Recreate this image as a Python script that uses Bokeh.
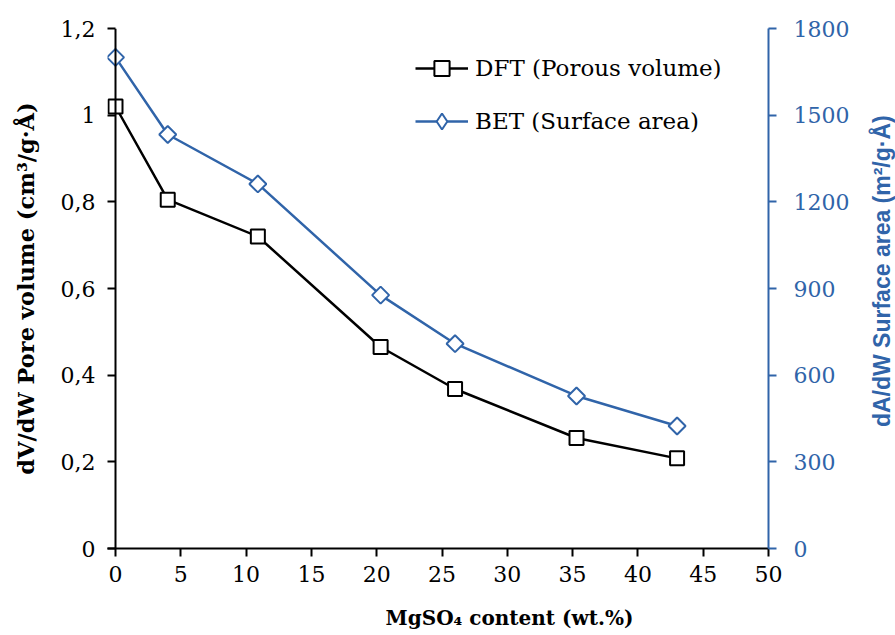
import math
from bokeh.plotting import figure
from bokeh.layouts import row, column
from bokeh.models import Range1d, LinearAxis, FixedTicker, Legend, LegendItem, Span, Label
from bokeh.embed import file_html
from bokeh.resources import INLINE

# ---- data ----
mgso4_content = [0, 4, 10.9, 20.3, 26, 35.3, 43]
dft_volume = [1.02, 0.805, 0.72, 0.465, 0.368, 0.255, 0.208]
bet_area = [1700, 1433, 1262, 877, 709, 528, 424]

x_ticks = [0, 5, 10, 15, 20, 25, 30, 35, 40, 45, 50]
left_ticks = [0, 0.2, 0.4, 0.6, 0.8, 1.0, 1.2]
left_tick_labels = ["0", "0,2", "0,4", "0,6", "0,8", "1", "1,2"]
right_ticks = [0, 300, 600, 900, 1200, 1500, 1800]

BLUE = "#3064A9"
SERIF = "DejaVu Serif"
MAIN_H = 600

p = figure(width=865, height=MAIN_H, x_range=Range1d(-0.6126, 50), y_range=Range1d(0, 1.2),
           output_backend="svg", toolbar_location=None,
           min_border_left=107, min_border_right=97, min_border_top=28, min_border_bottom=52)
p.outline_line_color = None
p.xgrid.visible = False
p.ygrid.visible = False
p.background_fill_color = "white"
p.border_fill_color = "white"

# bottom axis
xa = p.xaxis[0]
xa.ticker = FixedTicker(ticks=x_ticks)
xa.axis_line_width = 2
xa.axis_line_color = "black"
xa.major_tick_line_width = 2
xa.major_tick_in = 0
xa.major_tick_out = 8
xa.minor_tick_line_color = None
xa.major_label_text_font = SERIF
xa.major_label_text_font_size = "22px"
xa.major_label_text_color = "black"
xa.major_label_standoff = 9

# left axis (sits at frame edge; visible axis line drawn at x = 0)
ya = p.yaxis[0]
ya.ticker = FixedTicker(ticks=left_ticks)
ya.major_label_overrides = {t: l for t, l in zip(left_ticks, left_tick_labels)}
ya.axis_line_color = None
ya.major_tick_line_width = 2
ya.major_tick_in = 8
ya.major_tick_out = 0
ya.minor_tick_line_color = None
ya.major_label_text_font = SERIF
ya.major_label_text_font_size = "22px"
ya.major_label_text_color = "black"
ya.major_label_standoff = 12
ya.axis_label = "dV/dW Pore volume (cm³/g·Å)"
ya.axis_label_text_font = SERIF
ya.axis_label_text_font_style = "bold"
ya.axis_label_text_font_size = "22.5px"
ya.axis_label_text_color = "black"
ya.axis_label_standoff = 19
p.add_layout(Span(location=0, dimension="height", line_color="black", line_width=2))

# right axis
p.extra_y_ranges = {"bet": Range1d(0, 1800)}
ra = LinearAxis(y_range_name="bet", ticker=FixedTicker(ticks=right_ticks))
ra.axis_line_width = 2
ra.axis_line_color = BLUE
ra.major_tick_line_width = 2
ra.major_tick_line_color = BLUE
ra.major_tick_in = 0
ra.major_tick_out = 8
ra.minor_tick_line_color = None
ra.major_label_text_font = SERIF
ra.major_label_text_font_size = "22px"
ra.major_label_text_color = BLUE
ra.major_label_standoff = 17
p.add_layout(ra, "right")

# series
dft_line = p.line(mgso4_content, dft_volume, line_color="black", line_width=2.5)
dft_pts = p.scatter(mgso4_content, dft_volume, marker="square", size=14,
                    line_color="black", line_width=2, fill_color="white")
bet_line = p.line(mgso4_content, bet_area, line_color=BLUE, line_width=2.5, y_range_name="bet")
# legend key for BET (zero size in the plot, hidden under the real markers)
bet_key = p.scatter(mgso4_content, bet_area, marker="diamond", size=0, line_color=BLUE,
                    line_width=2, fill_color="white", y_range_name="bet")
bet_pts = p.scatter(mgso4_content, bet_area, marker="square", angle=math.pi / 4, size=12,
                    line_color=BLUE, line_width=2, fill_color="white", y_range_name="bet")

def make_legend(label, renderers, gh, loc):
    return Legend(items=[LegendItem(label=label, renderers=renderers)], location=loc,
                  glyph_width=53, glyph_height=gh, label_standoff=7, padding=0, margin=0,
                  spacing=0, border_line_color=None, background_fill_alpha=0,
                  label_text_font=SERIF, label_text_font_size="23px", label_text_color="black")

p.add_layout(make_legend("DFT (Porous volume)", [dft_line, dft_pts], 38, (308, 461)))
p.add_layout(make_legend("BET (Surface area)", [bet_line, bet_key], 40, (308, 407)))

# narrow companion panel holding the right-hand axis title (reads bottom to top)
q = figure(width=30, height=MAIN_H, x_range=Range1d(0, 1), y_range=Range1d(0, 1),
           output_backend="svg", toolbar_location=None, x_axis_type=None, y_axis_type=None,
           min_border_left=0, min_border_right=0, min_border_top=0, min_border_bottom=0)
q.outline_line_color = None
q.xgrid.visible = False
q.ygrid.visible = False
q.add_layout(Label(x=0.55, y=1 - 280 / MAIN_H, angle=math.pi / 2,
                   text="dA/dW Surface area (m²/g·Å)", text_font="Liberation Sans",
                   text_font_style="bold", text_font_size="23px", text_color=BLUE,
                   text_align="center", text_baseline="middle"))

# strip below holding the x-axis title
r = figure(width=895, height=635 - MAIN_H, x_range=Range1d(0, 895), y_range=Range1d(0, 635 - MAIN_H),
           output_backend="svg", toolbar_location=None, x_axis_type=None, y_axis_type=None,
           min_border_left=0, min_border_right=0, min_border_top=0, min_border_bottom=0)
r.outline_line_color = None
r.xgrid.visible = False
r.ygrid.visible = False
r.add_layout(Label(x=509, y=635 - 617, text="MgSO₄ content (wt.%)", text_font=SERIF,
                   text_font_style="bold", text_font_size="20px", text_color="black",
                   text_align="center", text_baseline="middle"))

layout = column(row(p, q, spacing=0), r, spacing=0)
open("out.html", "w").write(file_html(layout, INLINE))
